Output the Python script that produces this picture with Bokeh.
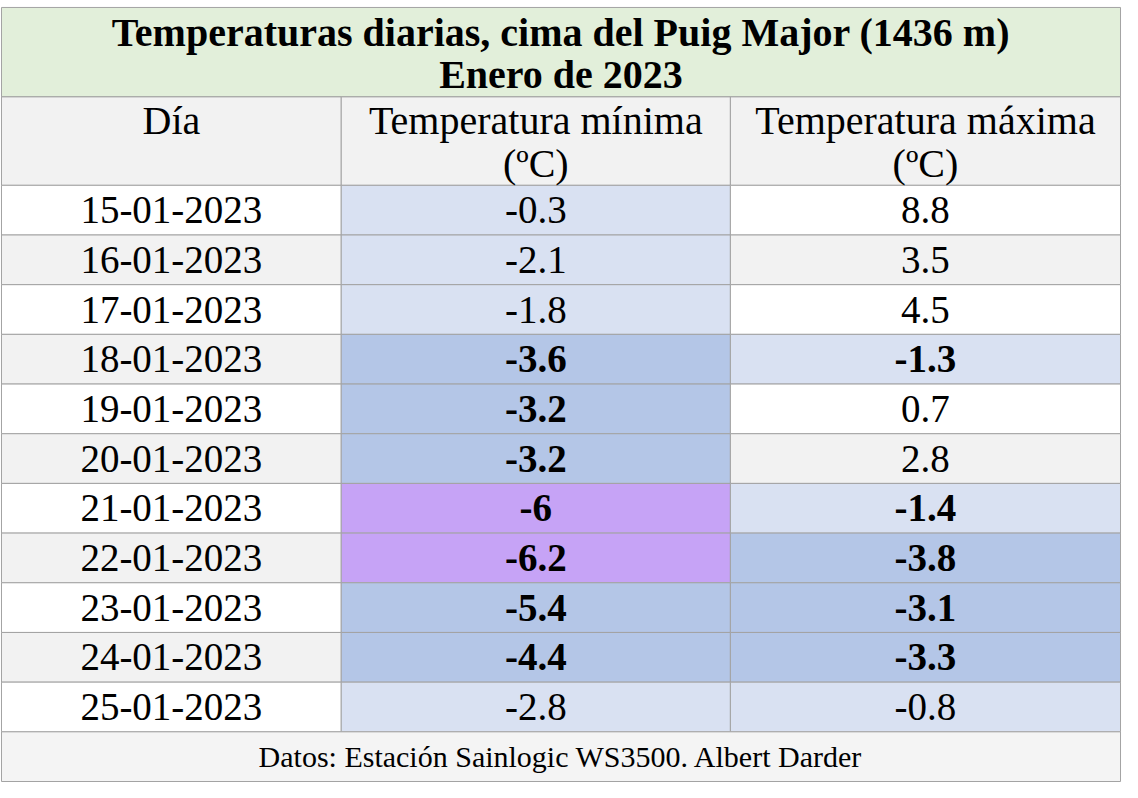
from bokeh.plotting import figure
from bokeh.models import Range1d
from bokeh.core.properties import value
from bokeh.embed import file_html
from bokeh.resources import INLINE

# ---- data ----
title_lines = ["Temperaturas diarias, cima del Puig Major (1436 m)", "Enero de 2023"]
headers = [["Día"], ["Temperatura mínima", "(ºC)"], ["Temperatura máxima", "(ºC)"]]
dates = ["15-01-2023", "16-01-2023", "17-01-2023", "18-01-2023", "19-01-2023", "20-01-2023",
         "21-01-2023", "22-01-2023", "23-01-2023", "24-01-2023", "25-01-2023"]
tmin = [-0.3, -2.1, -1.8, -3.6, -3.2, -3.2, -6, -6.2, -5.4, -4.4, -2.8]
tmax = [8.8, 3.5, 4.5, -1.3, 0.7, 2.8, -1.4, -3.8, -3.1, -3.3, -0.8]
footer = "Datos: Estación Sainlogic WS3500. Albert Darder"

# ---- layout (reference pixel coordinates) ----
col_edges = [2, 346, 740, 1135]
y_title = (7, 97)
y_header = (97, 186)
row_h = 50
y_data0 = 186
n = len(dates)
y_footer = (y_data0 + n * row_h, y_data0 + n * row_h + 50)

GREEN = "#E2EFDA"
GREY = "#F2F2F2"
WHITE = "#FFFFFF"
LIGHT = "#D9E1F2"
MID = "#B4C6E7"
PURPLE = "#C6A3F6"
LINE = "#A3A3A3"
FONT = value("Liberation Serif")


def fill_for(v, stripe):
    if v > 0:
        return stripe
    if v > -3:
        return LIGHT
    if v > -6:
        return MID
    return PURPLE


p = figure(width=1122, height=782, output_backend="svg", toolbar_location=None,
           x_range=Range1d(1, 1137), y_range=Range1d(787, 0), min_border=0)
p.axis.visible = False
p.grid.visible = False
p.outline_line_color = None
p.background_fill_color = "white"

# cells
L, R, T, B, C = [], [], [], [], []
def cell(l, r, t, b, c):
    L.append(l); R.append(r); T.append(t); B.append(b); C.append(c)

cell(col_edges[0], col_edges[-1], y_title[0], y_title[1], GREEN)
for j in range(3):
    cell(col_edges[j], col_edges[j + 1], y_header[0], y_header[1], GREY)
for i in range(n):
    t = y_data0 + i * row_h
    b = t + row_h
    stripe = WHITE if i % 2 == 0 else GREY
    cell(col_edges[0], col_edges[1], t, b, stripe)
    cell(col_edges[1], col_edges[2], t, b, fill_for(tmin[i], stripe))
    cell(col_edges[2], col_edges[3], t, b, fill_for(tmax[i], stripe))
cell(col_edges[0], col_edges[-1], y_footer[0], y_footer[1], "#F4F4F4")

p.quad(left=L, right=R, top=T, bottom=B, fill_color=C, line_color=LINE, line_width=1)

# title
xc = (col_edges[0] + col_edges[-1]) / 2
p.text(x=[xc, xc], y=[32, 74], text=title_lines, text_font=FONT, text_font_style="bold",
       text_font_size="40px", text_align="center", text_baseline="middle", text_color="black")

# headers
hx, hy, ht = [], [], []
for j, lines in enumerate(headers):
    cx = (col_edges[j] + col_edges[j + 1]) / 2
    for k, s in enumerate(lines):
        hx.append(cx); hy.append(121 + k * 43); ht.append(s)
p.text(x=hx, y=hy, text=ht, text_font=FONT, text_font_size="40px",
       text_align="center", text_baseline="middle", text_color="black")

# data
nx, ny, nt = [], [], []
bx, by, bt = [], [], []
c0 = (col_edges[0] + col_edges[1]) / 2
c1 = (col_edges[1] + col_edges[2]) / 2
c2 = (col_edges[2] + col_edges[3]) / 2
for i in range(n):
    cy = y_data0 + i * row_h + row_h / 2
    nx.append(c0); ny.append(cy); nt.append(dates[i])
    for cx, v, thr in ((c1, tmin[i], -3), (c2, tmax[i], -1)):
        s = f"{v:g}"
        if v < thr:
            bx.append(cx); by.append(cy); bt.append(s)
        else:
            nx.append(cx); ny.append(cy); nt.append(s)
p.text(x=nx, y=ny, text=nt, text_font=FONT, text_font_size="39px",
       text_align="center", text_baseline="middle", text_color="black")
p.text(x=bx, y=by, text=bt, text_font=FONT, text_font_style="bold", text_font_size="39px",
       text_align="center", text_baseline="middle", text_color="black")

# footer
p.text(x=[xc], y=[(y_footer[0] + y_footer[1]) / 2], text=[footer], text_font=FONT,
       text_font_size="30px", text_align="center", text_baseline="middle", text_color="black")

open("out.html", "w").write(file_html(p, INLINE))
